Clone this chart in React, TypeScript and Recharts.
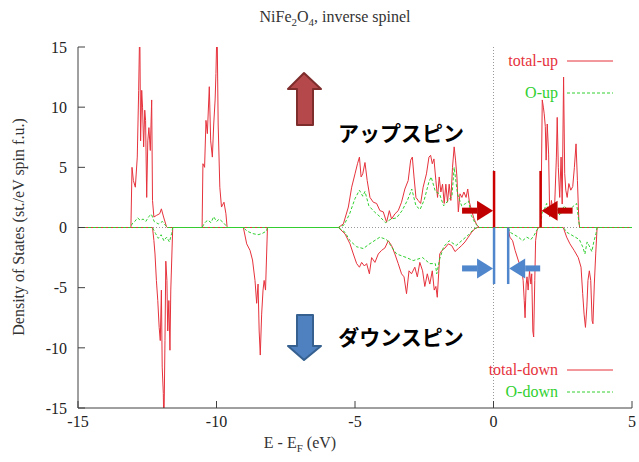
import React from 'react';
import { LineChart, Line, XAxis, YAxis, ReferenceLine } from 'recharts';

// Spin-resolved DOS of NiFe2O4 (inverse spinel): [E - EF (eV), DOS]
const totalUp: [number, number][] = [
  [-15, 0], [-13.09, 0], [-13.05, 5.0], [-13.0, 3.9], [-12.93, 3.35], [-12.86, 5.85], [-12.81, 11.4],
  [-12.77, 17], [-12.74, 7.2], [-12.7, 11.4], [-12.67, 10.0], [-12.63, 6.7], [-12.59, 9.75], [-12.56, 8.9],
  [-12.52, 2.5], [-12.48, 7.2], [-12.44, 8.3], [-12.39, 6.4], [-12.34, 10.6], [-12.31, 2.25], [-12.26, 0.87],
  [-12.17, 1.0], [-12.05, 1.15], [-11.99, 1.55], [-11.91, 0.87], [-11.81, 0.1], [-11.78, 0],
  [-10.52, 0], [-10.49, 5.3], [-10.43, 5.0], [-10.38, 8.9], [-10.33, 7.8], [-10.26, 11.7], [-10.21, 7.2],
  [-10.15, 5.85], [-10.1, 8.6], [-10.05, 10.6], [-10.02, 12.8], [-9.98, 17], [-9.94, 8.6], [-9.88, 3.35],
  [-9.82, 1.7], [-9.73, 2.1], [-9.66, 1.15], [-9.62, 0.1], [-9.6, 0],
  [-5.6, 0], [-5.42, 0.3], [-5.24, 1.7], [-5.12, 3.35], [-5.0, 4.46], [-4.91, 5.3], [-4.84, 5.85], [-4.78, 4.2],
  [-4.72, 4.46], [-4.64, 5.4], [-4.56, 3.9], [-4.46, 2.5], [-4.34, 2.1], [-4.22, 2.0], [-4.1, 1.4], [-3.98, 1.3],
  [-3.86, 0.44], [-3.76, 1.4], [-3.68, 0.7], [-3.56, 1.13], [-3.44, 1.4], [-3.32, 2.1], [-3.2, 3.2], [-3.08, 3.9],
  [-2.99, 5.6], [-2.93, 5.85], [-2.87, 4.2], [-2.8, 2.5], [-2.72, 2.25], [-2.63, 2.0], [-2.54, 3.35], [-2.42, 4.46],
  [-2.33, 5.85], [-2.27, 6.0], [-2.21, 5.3], [-2.15, 5.7], [-2.08, 3.9], [-2.02, 2.5], [-1.96, 4.2], [-1.9, 2.95],
  [-1.84, 3.6], [-1.78, 2.0], [-1.72, 3.6], [-1.66, 2.1], [-1.6, 3.6], [-1.54, 2.25], [-1.48, 5.0], [-1.42, 6.7],
  [-1.37, 5.6], [-1.32, 4.2], [-1.27, 1.3], [-1.21, 2.8], [-1.14, 2.5], [-1.07, 2.95], [-0.99, 2.5], [-0.93, 3.2],
  [-0.87, 2.1], [-0.79, 1.4], [-0.7, 0.7], [-0.6, 0.2], [-0.51, 0],
  [1.7, 0], [1.72, 2.25], [1.76, 10.6], [1.8, 10.0], [1.83, 9.45], [1.87, 8.4], [1.9, 5.6], [1.94, 8.6], [1.99, 6.1],
  [2.03, 0.9], [2.09, 2.25], [2.15, 1.4], [2.21, 1.95], [2.27, 5.85], [2.3, 9.15], [2.34, 5.0], [2.39, 2.5],
  [2.44, 5.85], [2.48, 1.95], [2.53, 12.5], [2.57, 4.5], [2.61, 3.1], [2.66, 2.5], [2.72, 3.65], [2.79, 3.1],
  [2.86, 3.4], [2.92, 5.0], [2.98, 6.95], [3.03, 3.9], [3.08, 0.6], [3.11, 0], [5, 0],
];

const oUp: [number, number][] = [
  [-15, 0], [-13.09, 0], [-13.05, 0.3], [-12.95, 0.5], [-12.85, 0.8], [-12.75, 0.6], [-12.65, 0.7], [-12.55, 0.5],
  [-12.45, 0.9], [-12.35, 1.1], [-12.25, 0.5], [-12.1, 0.3], [-11.95, 0.5], [-11.85, 0.2], [-11.78, 0],
  [-10.52, 0], [-10.45, 0.3], [-10.38, 0.5], [-10.3, 0.6], [-10.2, 0.4], [-10.1, 0.9], [-10.0, 0.5], [-9.9, 0.7],
  [-9.75, 0.4], [-9.6, 0],
  [-5.6, 0], [-5.4, 0.2], [-5.2, 1.1], [-5.0, 2.4], [-4.84, 3.1], [-4.72, 2.6], [-4.64, 3.0], [-4.5, 1.8],
  [-4.3, 1.3], [-4.1, 0.9], [-3.9, 0.4], [-3.7, 0.7], [-3.5, 0.8], [-3.3, 1.4], [-3.1, 2.3], [-2.95, 3.2],
  [-2.8, 1.8], [-2.65, 1.5], [-2.5, 2.3], [-2.33, 3.8], [-2.25, 4.2], [-2.1, 3.0], [-1.95, 2.8], [-1.8, 1.8],
  [-1.65, 2.2], [-1.5, 2.6], [-1.42, 5.0], [-1.3, 2.8], [-1.15, 1.8], [-1.0, 2.0], [-0.9, 2.2], [-0.8, 1.0],
  [-0.65, 0.3], [-0.51, 0],
  [1.7, 0], [1.75, 1.2], [1.85, 1.6], [1.92, 2.0], [2.0, 1.0], [2.1, 1.3], [2.2, 0.9], [2.3, 1.5], [2.4, 1.0],
  [2.55, 1.8], [2.7, 1.4], [2.85, 1.7], [3.0, 2.0], [3.08, 0.5], [3.11, 0], [5, 0],
];

const totalDown: [number, number][] = [
  [-15, 0], [-12.31, 0], [-12.26, -1.08], [-12.22, -2.2], [-12.17, -4.4], [-12.12, -6.07], [-12.07, -8.3],
  [-12.03, -9.4], [-11.99, -5.2], [-11.96, -11.6], [-11.92, -13.8], [-11.9, -17], [-11.86, -9.4], [-11.83, -2.8],
  [-11.79, -4.4], [-11.76, -8.6], [-11.72, -6.07], [-11.68, -10.2], [-11.65, -5.2], [-11.61, -2.2], [-11.58, 0],
  [-9.03, 0], [-8.91, -1.36], [-8.79, -1.9], [-8.7, -2.7], [-8.61, -4.4], [-8.55, -6.3], [-8.5, -4.7],
  [-8.46, -8.6], [-8.42, -10.6], [-8.37, -7.2], [-8.32, -5.2], [-8.28, -4.4], [-8.23, -5.2], [-8.19, -2.2],
  [-8.16, 0],
  [-5.6, 0], [-5.36, -0.53], [-5.18, -1.36], [-5.06, -2.2], [-4.94, -3.0], [-4.84, -3.3], [-4.76, -2.9],
  [-4.66, -3.2], [-4.58, -3.0], [-4.48, -3.85], [-4.4, -2.5], [-4.28, -2.9], [-4.16, -2.2], [-4.04, -1.9],
  [-3.92, -1.7], [-3.8, -1.1], [-3.68, -1.5], [-3.56, -2.2], [-3.44, -3.0], [-3.32, -3.85], [-3.23, -4.1],
  [-3.14, -5.5], [-3.05, -3.6], [-2.96, -3.85], [-2.84, -3.3], [-2.75, -4.1], [-2.66, -2.9], [-2.56, -3.6],
  [-2.48, -4.9], [-2.39, -3.85], [-2.3, -4.7], [-2.21, -3.6], [-2.14, -5.2], [-2.08, -4.9], [-2.03, -5.8],
  [-1.98, -3.85], [-1.94, -2.2], [-1.86, -1.9], [-1.75, -1.7], [-1.63, -1.36], [-1.51, -1.5], [-1.39, -2.0],
  [-1.27, -1.75], [-1.15, -1.5], [-1.03, -1.2], [-0.91, -0.8], [-0.79, -0.4], [-0.67, -0.1], [-0.58, 0],
  [0.53, 0], [0.59, -0.8], [0.69, -1.1], [0.78, -1.9], [0.89, -2.7], [0.98, -3.3], [1.04, -3.85], [1.07, -4.4],
  [1.11, -6.07], [1.14, -7.5], [1.18, -4.7], [1.21, -4.1], [1.25, -5.2], [1.3, -3.6], [1.35, -4.7], [1.38, -3.85],
  [1.42, -8.6], [1.45, -9.1], [1.49, -4.4], [1.52, -1.1], [1.57, -0.25], [1.62, 0],
  [2.52, 0], [2.64, -0.8], [2.76, -1.36], [2.91, -1.9], [3.06, -2.5], [3.16, -3.3], [3.22, -5.5], [3.27, -7.2],
  [3.32, -8.3], [3.37, -6.6], [3.41, -4.4], [3.46, -3.6], [3.51, -4.4], [3.56, -7.75], [3.59, -8.0], [3.64, -4.7],
  [3.69, -2.2], [3.74, 0], [5, 0],
];

const oDown: [number, number][] = [
  [-15, 0], [-12.31, 0], [-12.2, -0.5], [-12.1, -0.9], [-12.0, -0.6], [-11.9, -1.1], [-11.8, -0.8], [-11.7, -1.2],
  [-11.62, -0.5], [-11.58, 0],
  [-9.03, 0], [-8.9, -0.3], [-8.7, -0.5], [-8.5, -0.6], [-8.35, -0.5], [-8.2, -0.3], [-8.16, 0],
  [-5.6, 0], [-5.36, -0.4], [-5.18, -1.1], [-4.94, -1.6], [-4.7, -1.75], [-4.5, -1.4], [-4.1, -0.8], [-3.86, -1.0],
  [-3.5, -2.2], [-3.14, -2.5], [-2.9, -2.75], [-2.56, -2.5], [-2.3, -3.0], [-2.1, -3.0], [-2.05, -3.85],
  [-1.94, -2.6], [-1.8, -1.6], [-1.6, -1.1], [-1.35, -1.5], [-1.1, -1.0], [-0.9, -0.6], [-0.7, -0.1], [-0.58, 0],
  [0.53, 0], [0.6, -0.4], [0.75, -0.6], [0.9, -0.8], [1.05, -1.1], [1.2, -0.8], [1.35, -1.0], [1.45, -0.7],
  [1.55, -0.3], [1.62, 0],
  [2.52, 0], [2.65, -0.4], [2.8, -0.6], [2.95, -0.8], [3.1, -1.0], [3.22, -1.6], [3.3, -2.2], [3.38, -1.2],
  [3.45, -1.5], [3.55, -2.0], [3.62, -1.2], [3.7, -0.5], [3.74, 0], [5, 0],
];

const xTicks = [-15, -10, -5, 0, 5];
const yTicks = [-15, -10, -5, 0, 5, 10, 15];

// band edges marking the gaps (eV) and the marker heights
const gapUp = [0.02, 1.7];
const gapDown = [0.02, 0.53];
const gapHeight = 4.7;

const FONT = 'Liberation Serif, DejaVu Serif, serif';
const JP = 'Noto Sans CJK JP, sans-serif';
const RED = '#e6323c';
const GREEN = '#30d030';
const AXIS = '#404040';

// plot geometry (pixels)
const W = 639, H = 462;
const PL = 78, PR = 632, PT = 47, PB = 408;
const px = (e: number) => PL + ((e + 15) / 20) * (PR - PL);
const py = (v: number) => PT + ((15 - v) / 30) * (PB - PT);

const rows = (pts: [number, number][]) => pts.map(([e, v]) => ({ e, v }));

const tickStyle = { fontSize: 16, fill: '#222', fontFamily: FONT };

const HArrow = ({ from, to, y, color }: { from: number; to: number; y: number; color: string }) => {
  const dir = Math.sign(to - from);
  const head = 16;
  const base = to - dir * head;
  return (
    <g>
      <line x1={from} y1={y} x2={base} y2={y} stroke={color} strokeWidth={6} />
      <polygon points={`${to},${y} ${base},${y - 10} ${base},${y + 10}`} fill={color} />
    </g>
  );
};

export default function App() {
  return (
    <div style={{ position: 'absolute', left: 0, top: 0, width: W, height: H, background: '#fff', fontFamily: FONT }}>
      <LineChart width={W} height={H} margin={{ top: PT, right: W - PR, bottom: 24, left: 18 }}>
        <XAxis
          xAxisId="b"
          type="number"
          dataKey="e"
          domain={[-15, 5]}
          ticks={xTicks}
          allowDataOverflow
          height={30}
          tick={tickStyle}
          tickSize={-7}
          tickMargin={15}
          stroke={AXIS}
        />
        <XAxis xAxisId="t" orientation="top" type="number" domain={[-15, 5]} ticks={xTicks} height={0}
          tick={false} tickSize={-7} stroke={AXIS} />
        <YAxis
          yAxisId="l"
          type="number"
          domain={[-15, 15]}
          ticks={yTicks}
          allowDataOverflow
          width={60}
          tick={tickStyle}
          tickSize={-7}
          tickMargin={18}
          stroke={AXIS}
        />
        <YAxis yAxisId="r" orientation="right" type="number" domain={[-15, 15]} ticks={yTicks} width={0}
          tick={false} tickSize={-7} stroke={AXIS} />

        <ReferenceLine xAxisId="b" yAxisId="l" x={0} stroke="#999" strokeDasharray="1 2" />
        <ReferenceLine xAxisId="b" yAxisId="l" y={0} stroke="#999" strokeDasharray="1 2" />

        <Line xAxisId="b" yAxisId="l" data={rows(totalUp)} dataKey="v" type="linear" stroke={RED}
          strokeWidth={1} dot={false} isAnimationActive={false} />
        <Line xAxisId="b" yAxisId="l" data={rows(totalDown)} dataKey="v" type="linear" stroke={RED}
          strokeWidth={1} dot={false} isAnimationActive={false} />
        <Line xAxisId="b" yAxisId="l" data={rows(oUp)} dataKey="v" type="linear" stroke={GREEN}
          strokeWidth={1} strokeDasharray="3 2" dot={false} isAnimationActive={false} />
        <Line xAxisId="b" yAxisId="l" data={rows(oDown)} dataKey="v" type="linear" stroke={GREEN}
          strokeWidth={1} strokeDasharray="3 2" dot={false} isAnimationActive={false} />

        {gapUp.map((e) => (
          <ReferenceLine key={`u${e}`} xAxisId="b" yAxisId="l" segment={[{ x: e, y: 0 }, { x: e, y: gapHeight }]}
            stroke="#cc0000" strokeWidth={2.5} />
        ))}
        {gapDown.map((e) => (
          <ReferenceLine key={`d${e}`} xAxisId="b" yAxisId="l" segment={[{ x: e, y: 0 }, { x: e, y: -gapHeight }]}
            stroke="#4f86cc" strokeWidth={2.5} />
        ))}
      </LineChart>

      <svg width={W} height={H} style={{ position: 'absolute', left: 0, top: 0, pointerEvents: 'none' }}>
        <text x={335} y={22} textAnchor="middle" style={{ fontFamily: FONT }} fontSize={16} fill="#333">
          NiFe<tspan fontSize={11} dy={4}>2</tspan><tspan dy={-4}>O</tspan><tspan fontSize={11} dy={4}>4</tspan>
          <tspan dy={-4}>, inverse spinel</tspan>
        </text>
        <text x={300} y={448} textAnchor="middle" style={{ fontFamily: FONT }} fontSize={16} fill="#333">
          E - E<tspan fontSize={11} dy={4}>F</tspan><tspan dy={-4}> (eV)</tspan>
        </text>
        <text x={0} y={0} transform="translate(24,227) rotate(-90)" textAnchor="middle" style={{ fontFamily: FONT }}
          fontSize={16} fill="#333">
          Density of States (st./eV spin f.u.)
        </text>

        {/* legend */}
        <g style={{ fontFamily: FONT }} fontSize={16} textAnchor="end">
          <text x={558} y={66} fill={RED}>total-up</text>
          <line x1={567} y1={61} x2={613} y2={61} stroke={RED} strokeWidth={1} />
          <text x={558} y={98} fill={GREEN}>O-up</text>
          <line x1={567} y1={93} x2={613} y2={93} stroke={GREEN} strokeWidth={1} strokeDasharray="3 2" />
          <text x={558} y={375} fill={RED}>total-down</text>
          <line x1={567} y1={370} x2={613} y2={370} stroke={RED} strokeWidth={1} />
          <text x={558} y={397} fill={GREEN}>O-down</text>
          <line x1={567} y1={392} x2={613} y2={392} stroke={GREEN} strokeWidth={1} strokeDasharray="3 2" />
        </g>

        {/* spin arrows */}
        <polygon points="304,73 321,89 313,89 313,125 297,125 297,89 288,89" fill="#b5484a" stroke="#7e2c2c"
          strokeWidth={2} strokeLinejoin="round" />
        <polygon points="304,360 321,346 313,346 313,315 297,315 297,346 288,346" fill="#4f80c0" stroke="#35608f"
          strokeWidth={2} strokeLinejoin="round" />
        <text x={401} y={132} textAnchor="middle" dominantBaseline="central" style={{ fontFamily: JP }}
          fontWeight="bold" fontSize={21} fill="#000">アップスピン</text>
        <text x={401} y={336} textAnchor="middle" dominantBaseline="central" style={{ fontFamily: JP }}
          fontWeight="bold" fontSize={21} fill="#000">ダウンスピン</text>

        {/* gap arrows */}
        <HArrow from={px(gapUp[0]) - 32} to={px(gapUp[0]) - 1} y={py(1.4)} color="#c00000" />
        <HArrow from={px(gapUp[1]) + 32} to={px(gapUp[1]) + 1} y={py(1.4)} color="#c00000" />
        <HArrow from={px(gapDown[0]) - 32} to={px(gapDown[0]) - 1} y={py(-3.4)} color="#4f86cc" />
        <HArrow from={px(gapDown[1]) + 32} to={px(gapDown[1]) + 1} y={py(-3.4)} color="#4f86cc" />
      </svg>
    </div>
  );
}
